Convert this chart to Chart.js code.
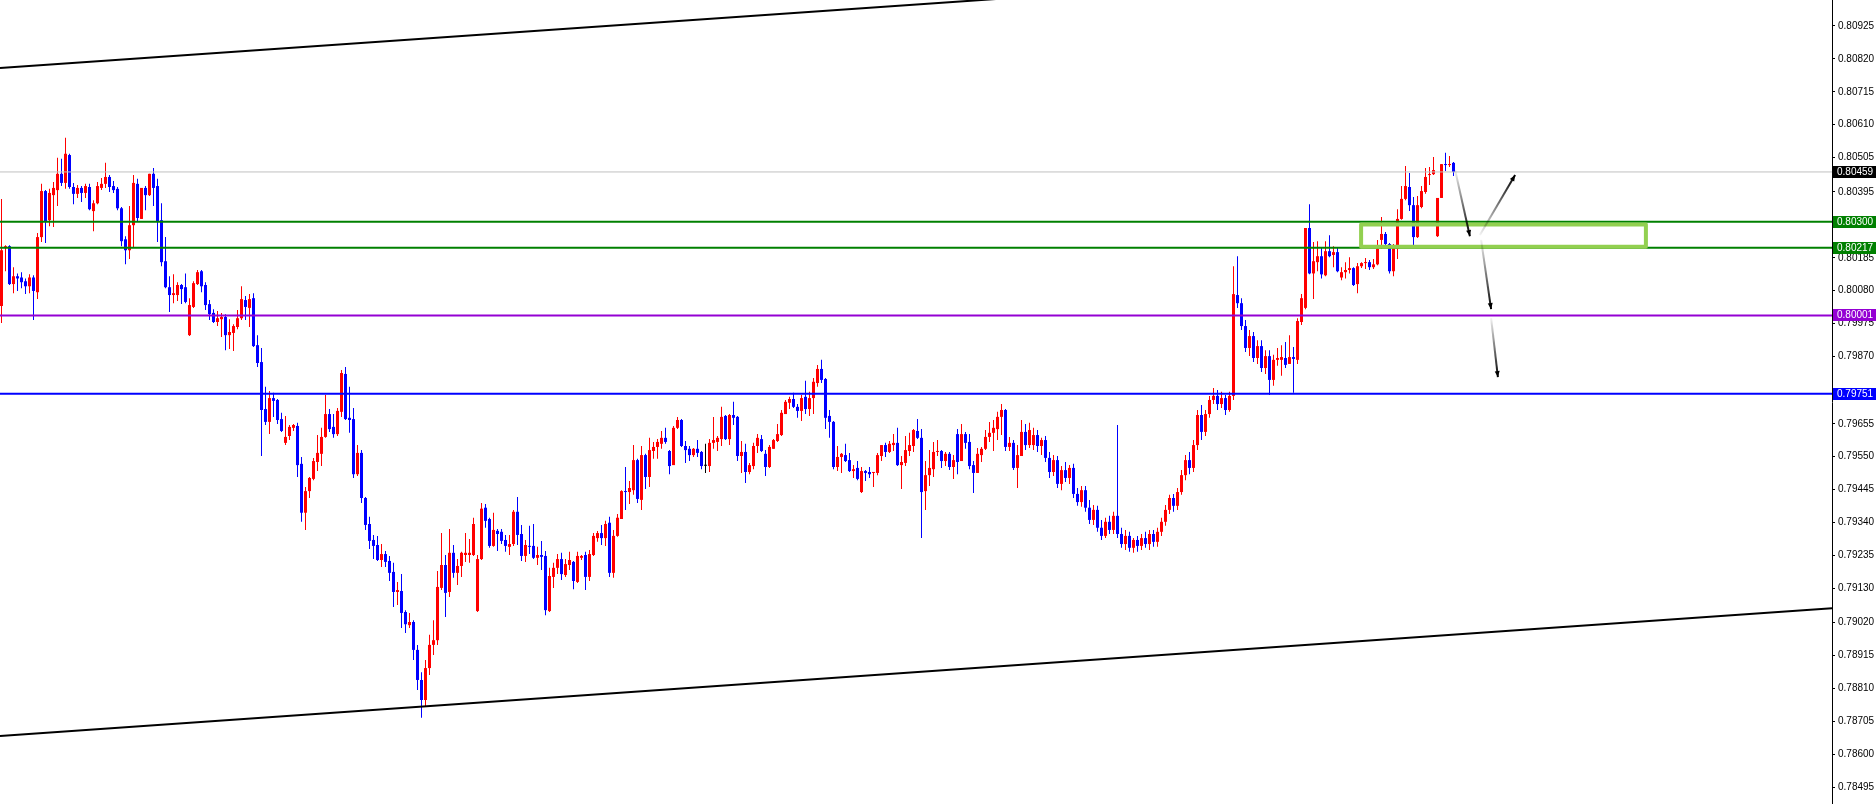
<!DOCTYPE html>
<html>
<head>
<meta charset="utf-8">
<script src="https://cdn.jsdelivr.net/npm/chart.js@4.4.1/dist/chart.umd.min.js"></script>
<style>
  html, body { margin: 0; padding: 0; background: #fff; }
</style>
</head>
<body>
<canvas id="chart" width="1876" height="804"></canvas>
<script>
// hourly candles, oldest first
const opens = [
  0.80031,0.80216,0.80222,0.80101,0.80126,0.80122,0.80110,0.80094,0.80122,0.80075,
  0.80251,0.80398,0.80305,0.80385,0.80401,0.80453,0.80424,0.80513,0.80411,0.80389,
  0.80408,0.80392,0.80411,0.80334,0.80359,0.80408,0.80421,0.80443,0.80414,0.80405,
  0.80343,0.80244,0.80209,0.80289,0.80421,0.80309,0.80408,0.80385,0.80453,0.80414,
  0.80305,0.80174,0.80091,0.80066,0.80066,0.80098,0.80091,0.79938,0.80028,0.80101,
  0.80142,0.80098,0.80037,0.80009,0.79980,0.79989,0.79996,0.79938,0.79945,0.79964,
  0.79992,0.80050,0.80025,0.80056,0.79906,0.79852,0.79702,0.79661,0.79737,0.79731,
  0.79670,0.79594,0.79616,0.79642,0.79648,0.79527,0.79371,0.79440,0.79479,0.79533,
  0.79559,0.79613,0.79686,0.79645,0.79622,0.79693,0.79814,0.79674,0.79670,0.79494,
  0.79562,0.79418,0.79335,0.79284,0.79268,0.79220,0.79239,0.79217,0.79182,0.79118,
  0.79121,0.79054,0.79012,0.79022,0.78933,0.78837,0.78773,0.78875,0.78949,0.78964,
  0.79131,0.79204,0.79118,0.79243,0.79179,0.79201,0.79236,0.79236,0.79236,0.79057,
  0.79223,0.79387,0.79351,0.79265,0.79313,0.79310,0.79284,0.79262,0.79271,0.79374,
  0.79303,0.79233,0.79265,0.79265,0.79227,0.79236,0.79233,0.79057,0.79166,0.79195,
  0.79223,0.79172,0.79204,0.79214,0.79150,0.79227,0.79236,0.79166,0.79236,0.79290,
  0.79306,0.79290,0.79339,0.79179,0.79297,0.79351,0.79440,0.79437,0.79443,0.79539,
  0.79412,0.79555,0.79485,0.79568,0.79581,0.79591,0.79610,0.79568,0.79523,0.79642,
  0.79667,0.79584,0.79575,0.79555,0.79575,0.79565,0.79521,0.79520,0.79594,0.79597,
  0.79606,0.79680,0.79606,0.79683,0.79677,0.79552,0.79565,0.79501,0.79520,0.79584,
  0.79606,0.79559,0.79517,0.79575,0.79600,0.79619,0.79686,0.79722,0.79734,0.79709,
  0.79696,0.79741,0.79702,0.79737,0.79785,0.79830,0.79798,0.79680,0.79661,0.79517,
  0.79549,0.79555,0.79539,0.79504,0.79514,0.79437,0.79504,0.79501,0.79498,0.79498,
  0.79552,0.79587,0.79565,0.79587,0.79594,0.79523,0.79530,0.79568,0.79584,0.79632,
  0.79610,0.79440,0.79491,0.79510,0.79565,0.79568,0.79536,0.79559,0.79517,0.79622,
  0.79536,0.79622,0.79597,0.79523,0.79498,0.79555,0.79575,0.79613,0.79626,0.79638,
  0.79677,0.79699,0.79581,0.79594,0.79514,0.79552,0.79629,0.79587,0.79587,0.79619,
  0.79584,0.79603,0.79546,0.79501,0.79539,0.79463,0.79507,0.79482,0.79514,0.79431,
  0.79405,0.79443,0.79387,0.79348,0.79380,0.79323,0.79297,0.79342,0.79316,0.79361,
  0.79303,0.79271,0.79297,0.79259,0.79284,0.79265,0.79290,0.79271,0.79303,0.79278,
  0.79310,0.79342,0.79380,0.79418,0.79393,0.79437,0.79491,0.79539,0.79514,0.79587,
  0.79683,0.79629,0.79686,0.79731,0.79744,0.79718,0.79737,0.79699,0.79744,0.80066,
  0.80040,0.79967,0.79897,0.79935,0.79865,0.79903,0.79833,0.79871,0.79795,0.79859,
  0.79859,0.79865,0.79846,0.79868,0.79859,0.79980,0.80025,0.80280,0.80135,0.80171,
  0.80190,0.80129,0.80206,0.80194,0.80203,0.80122,0.80139,0.80146,0.80152,0.80101,
  0.80158,0.80168,0.80171,0.80155,0.80164,0.80242,0.80261,0.80229,0.80142,0.80213,
  0.80309,0.80373,0.80411,0.80353,0.80251,0.80347,0.80395,0.80449,0.80452,0.80254,
  0.80376,0.80484,0.80481,0.80488
];
const highs = [
  0.80373,0.80225,0.80225,0.80155,0.80135,0.80139,0.80119,0.80132,0.80129,0.80264,
  0.80421,0.80401,0.80405,0.80427,0.80504,0.80501,0.80568,0.80517,0.80424,0.80417,
  0.80414,0.80421,0.80421,0.80369,0.80427,0.80440,0.80488,0.80449,0.80430,0.80411,
  0.80347,0.80254,0.80350,0.80449,0.80437,0.80408,0.80414,0.80453,0.80472,0.80437,
  0.80359,0.80251,0.80126,0.80132,0.80107,0.80101,0.80135,0.80056,0.80110,0.80146,
  0.80146,0.80107,0.80050,0.80021,0.80015,0.80009,0.80005,0.79989,0.79973,0.80018,
  0.80094,0.80063,0.80069,0.80072,0.79938,0.79897,0.79773,0.79760,0.79754,0.79734,
  0.79690,0.79680,0.79651,0.79654,0.79658,0.79549,0.79453,0.79485,0.79546,0.79619,
  0.79642,0.79747,0.79702,0.79686,0.79705,0.79827,0.79836,0.79773,0.79705,0.79587,
  0.79571,0.79421,0.79358,0.79300,0.79297,0.79271,0.79249,0.79233,0.79211,0.79150,
  0.79175,0.79060,0.79051,0.79028,0.78949,0.78862,0.78901,0.78981,0.79028,0.79185,
  0.79306,0.79236,0.79319,0.79268,0.79223,0.79246,0.79306,0.79287,0.79355,0.79236,
  0.79402,0.79399,0.79355,0.79371,0.79319,0.79319,0.79300,0.79300,0.79380,0.79421,
  0.79332,0.79284,0.79329,0.79335,0.79262,0.79281,0.79249,0.79195,0.79211,0.79239,
  0.79243,0.79223,0.79246,0.79217,0.79246,0.79236,0.79246,0.79252,0.79306,0.79313,
  0.79332,0.79345,0.79358,0.79316,0.79367,0.79443,0.79517,0.79472,0.79587,0.79543,
  0.79584,0.79559,0.79610,0.79597,0.79606,0.79632,0.79642,0.79571,0.79648,0.79677,
  0.79670,0.79600,0.79584,0.79578,0.79603,0.79568,0.79591,0.79606,0.79677,0.79616,
  0.79709,0.79683,0.79686,0.79725,0.79680,0.79600,0.79591,0.79530,0.79594,0.79622,
  0.79619,0.79571,0.79587,0.79606,0.79654,0.79699,0.79731,0.79741,0.79754,0.79718,
  0.79747,0.79792,0.79757,0.79801,0.79843,0.79859,0.79801,0.79699,0.79664,0.79584,
  0.79562,0.79591,0.79562,0.79523,0.79536,0.79517,0.79507,0.79517,0.79501,0.79562,
  0.79587,0.79594,0.79600,0.79622,0.79642,0.79552,0.79616,0.79626,0.79638,0.79670,
  0.79638,0.79536,0.79571,0.79597,0.79603,0.79571,0.79565,0.79565,0.79555,0.79638,
  0.79654,0.79629,0.79622,0.79536,0.79578,0.79581,0.79635,0.79661,0.79667,0.79693,
  0.79718,0.79702,0.79613,0.79603,0.79587,0.79667,0.79654,0.79658,0.79642,0.79635,
  0.79610,0.79616,0.79565,0.79555,0.79552,0.79520,0.79533,0.79523,0.79527,0.79450,
  0.79456,0.79456,0.79412,0.79396,0.79393,0.79348,0.79355,0.79361,0.79374,0.79651,
  0.79323,0.79316,0.79310,0.79290,0.79297,0.79303,0.79310,0.79316,0.79316,0.79323,
  0.79355,0.79396,0.79428,0.79431,0.79450,0.79507,0.79555,0.79565,0.79603,0.79699,
  0.79715,0.79699,0.79744,0.79769,0.79763,0.79757,0.79747,0.79757,0.80158,0.80190,
  0.80056,0.79986,0.79954,0.79948,0.79922,0.79922,0.79890,0.79890,0.79875,0.79897,
  0.79906,0.79916,0.79938,0.79900,0.79992,0.80069,0.80280,0.80356,0.80235,0.80238,
  0.80219,0.80238,0.80257,0.80222,0.80219,0.80155,0.80171,0.80187,0.80155,0.80168,
  0.80171,0.80184,0.80178,0.80181,0.80242,0.80315,0.80267,0.80232,0.80229,0.80340,
  0.80414,0.80478,0.80456,0.80379,0.80382,0.80414,0.80472,0.80475,0.80507,0.80376,
  0.80484,0.80520,0.80510,0.80491
];
const lows = [
  0.79977,0.80142,0.80098,0.80072,0.80079,0.80088,0.80069,0.80072,0.79986,0.80053,
  0.80235,0.80232,0.80286,0.80283,0.80350,0.80414,0.80405,0.80405,0.80356,0.80376,
  0.80363,0.80376,0.80337,0.80270,0.80356,0.80401,0.80408,0.80395,0.80392,0.80337,
  0.80222,0.80164,0.80181,0.80219,0.80302,0.80309,0.80337,0.80382,0.80350,0.80235,
  0.80158,0.80088,0.80012,0.80040,0.80047,0.80037,0.80040,0.79935,0.80025,0.80098,
  0.80075,0.80018,0.79986,0.79977,0.79967,0.79932,0.79890,0.79894,0.79887,0.79957,
  0.79986,0.79986,0.79964,0.79900,0.79836,0.79552,0.79651,0.79622,0.79677,0.79654,
  0.79629,0.79587,0.79603,0.79632,0.79485,0.79342,0.79316,0.79418,0.79475,0.79504,
  0.79520,0.79610,0.79629,0.79610,0.79616,0.79677,0.79667,0.79626,0.79482,0.79488,
  0.79402,0.79316,0.79255,0.79223,0.79217,0.79198,0.79198,0.79153,0.79070,0.79076,
  0.79003,0.78987,0.79003,0.78901,0.78805,0.78716,0.78754,0.78853,0.78917,0.78949,
  0.79124,0.79038,0.79102,0.79163,0.79140,0.79166,0.79214,0.79211,0.79233,0.79054,
  0.79220,0.79323,0.79259,0.79262,0.79249,0.79271,0.79246,0.79236,0.79265,0.79268,
  0.79217,0.79214,0.79239,0.79223,0.79204,0.79188,0.79044,0.79054,0.79131,0.79175,
  0.79156,0.79166,0.79188,0.79127,0.79147,0.79220,0.79124,0.79153,0.79233,0.79278,
  0.79268,0.79265,0.79166,0.79163,0.79294,0.79351,0.79380,0.79399,0.79428,0.79402,
  0.79380,0.79447,0.79453,0.79543,0.79543,0.79575,0.79591,0.79494,0.79523,0.79638,
  0.79581,0.79530,0.79536,0.79549,0.79549,0.79510,0.79498,0.79501,0.79575,0.79568,
  0.79584,0.79603,0.79587,0.79651,0.79536,0.79498,0.79466,0.79494,0.79510,0.79562,
  0.79565,0.79488,0.79514,0.79575,0.79597,0.79616,0.79686,0.79702,0.79705,0.79674,
  0.79664,0.79686,0.79680,0.79686,0.79773,0.79785,0.79638,0.79610,0.79510,0.79504,
  0.79498,0.79533,0.79501,0.79482,0.79475,0.79434,0.79472,0.79482,0.79453,0.79491,
  0.79536,0.79549,0.79562,0.79568,0.79520,0.79447,0.79520,0.79552,0.79565,0.79606,
  0.79290,0.79380,0.79456,0.79485,0.79552,0.79514,0.79520,0.79507,0.79479,0.79494,
  0.79536,0.79575,0.79510,0.79434,0.79498,0.79533,0.79571,0.79597,0.79568,0.79603,
  0.79619,0.79568,0.79568,0.79507,0.79450,0.79552,0.79571,0.79578,0.79571,0.79565,
  0.79555,0.79533,0.79482,0.79488,0.79450,0.79443,0.79469,0.79463,0.79418,0.79393,
  0.79390,0.79374,0.79335,0.79332,0.79310,0.79284,0.79290,0.79303,0.79303,0.79290,
  0.79259,0.79252,0.79246,0.79243,0.79246,0.79252,0.79259,0.79252,0.79262,0.79262,
  0.79297,0.79329,0.79367,0.79374,0.79380,0.79428,0.79475,0.79494,0.79501,0.79571,
  0.79603,0.79616,0.79674,0.79718,0.79699,0.79705,0.79683,0.79693,0.79731,0.80025,
  0.79954,0.79884,0.79871,0.79852,0.79846,0.79820,0.79814,0.79747,0.79776,0.79840,
  0.79808,0.79833,0.79846,0.79754,0.79846,0.79970,0.80021,0.80132,0.80053,0.80142,
  0.80119,0.80126,0.80187,0.80155,0.80139,0.80113,0.80119,0.80135,0.80095,0.80072,
  0.80152,0.80149,0.80146,0.80149,0.80161,0.80213,0.80222,0.80135,0.80126,0.80181,
  0.80306,0.80369,0.80334,0.80225,0.80248,0.80343,0.80389,0.80417,0.80449,0.80251,
  0.80376,0.80462,0.80475,0.80446
];
const closes = [
  0.80209,0.80222,0.80101,0.80126,0.80119,0.80107,0.80094,0.80122,0.80079,0.80251,
  0.80398,0.80302,0.80392,0.80408,0.80453,0.80424,0.80517,0.80411,0.80389,0.80408,
  0.80392,0.80414,0.80340,0.80359,0.80414,0.80421,0.80443,0.80411,0.80401,0.80343,
  0.80238,0.80209,0.80289,0.80424,0.80312,0.80408,0.80385,0.80453,0.80408,0.80302,
  0.80171,0.80091,0.80066,0.80072,0.80098,0.80085,0.80044,0.80034,0.80104,0.80139,
  0.80094,0.80034,0.80005,0.79980,0.79992,0.79996,0.79938,0.79948,0.79967,0.79992,
  0.80053,0.80028,0.80053,0.79903,0.79849,0.79699,0.79661,0.79737,0.79728,0.79667,
  0.79632,0.79613,0.79645,0.79651,0.79523,0.79371,0.79440,0.79482,0.79536,0.79562,
  0.79613,0.79686,0.79638,0.79622,0.79696,0.79817,0.79670,0.79667,0.79494,0.79562,
  0.79418,0.79332,0.79281,0.79265,0.79220,0.79239,0.79214,0.79179,0.79118,0.79124,
  0.79051,0.79015,0.79022,0.78933,0.78837,0.78773,0.78875,0.78949,0.78964,0.79134,
  0.79204,0.79115,0.79243,0.79179,0.79201,0.79243,0.79243,0.79243,0.79335,0.79223,
  0.79384,0.79345,0.79265,0.79316,0.79303,0.79281,0.79265,0.79271,0.79374,0.79300,
  0.79233,0.79268,0.79262,0.79227,0.79236,0.79230,0.79060,0.79169,0.79195,0.79223,
  0.79175,0.79207,0.79220,0.79153,0.79233,0.79233,0.79166,0.79239,0.79297,0.79306,
  0.79290,0.79335,0.79179,0.79297,0.79355,0.79440,0.79437,0.79450,0.79539,0.79415,
  0.79555,0.79485,0.79571,0.79581,0.79597,0.79610,0.79597,0.79520,0.79642,0.79667,
  0.79584,0.79571,0.79555,0.79575,0.79562,0.79520,0.79521,0.79594,0.79603,0.79610,
  0.79677,0.79606,0.79683,0.79674,0.79552,0.79565,0.79501,0.79523,0.79584,0.79610,
  0.79568,0.79517,0.79581,0.79603,0.79622,0.79690,0.79725,0.79734,0.79709,0.79696,
  0.79737,0.79702,0.79737,0.79789,0.79830,0.79795,0.79674,0.79661,0.79517,0.79549,
  0.79559,0.79536,0.79504,0.79510,0.79479,0.79504,0.79498,0.79494,0.79501,0.79555,
  0.79587,0.79565,0.79591,0.79594,0.79523,0.79533,0.79571,0.79587,0.79635,0.79610,
  0.79437,0.79491,0.79514,0.79565,0.79568,0.79536,0.79559,0.79517,0.79539,0.79533,
  0.79622,0.79594,0.79520,0.79498,0.79559,0.79575,0.79613,0.79626,0.79642,0.79677,
  0.79699,0.79581,0.79594,0.79514,0.79555,0.79629,0.79587,0.79635,0.79619,0.79584,
  0.79603,0.79546,0.79501,0.79539,0.79463,0.79507,0.79482,0.79514,0.79431,0.79405,
  0.79443,0.79387,0.79348,0.79380,0.79323,0.79297,0.79342,0.79316,0.79361,0.79303,
  0.79271,0.79297,0.79259,0.79284,0.79265,0.79290,0.79271,0.79303,0.79278,0.79310,
  0.79342,0.79380,0.79418,0.79393,0.79437,0.79491,0.79539,0.79514,0.79587,0.79683,
  0.79629,0.79686,0.79731,0.79744,0.79718,0.79737,0.79699,0.79744,0.80069,0.80040,
  0.79967,0.79897,0.79935,0.79865,0.79903,0.79833,0.79871,0.79795,0.79859,0.79865,
  0.79868,0.79843,0.79868,0.79862,0.79983,0.80056,0.80280,0.80135,0.80174,0.80190,
  0.80132,0.80206,0.80190,0.80203,0.80142,0.80139,0.80146,0.80152,0.80098,0.80158,
  0.80168,0.80171,0.80155,0.80164,0.80213,0.80261,0.80229,0.80142,0.80216,0.80309,
  0.80373,0.80414,0.80353,0.80251,0.80353,0.80398,0.80443,0.80452,0.80465,0.80376,
  0.80484,0.80481,0.80484,0.80459
];

// price scale labels on the right (0.79765 sits under the blue tag and is not shown)
const tickValues = [
  0.80925,0.80820,0.80715,0.80610,0.80505,0.80395,0.80290,0.80185,0.80080,0.79975,
  0.79870,0.79655,0.79550,0.79445,0.79340,0.79235,0.79130,0.79020,0.78915,
  0.78810,0.78705,0.78600,0.78495
];
const priceMin = 0.78441;
const priceMax = 0.81008;
const slotMin = -0.375;
const slotMax = 457.625;

const bidPrice = 0.80459;
const levelPrices = [0.80300, 0.80217, 0.80001, 0.79751];

// channel lines: [slot, price] at both ends
const upperChannel = [[-0.375, 0.80791], [457.625, 0.81196]];
const lowerChannel = [[-0.375, 0.78658], [457.625, 0.79066]];

// zone box
const zoneSlots = [339.9, 411.1];
const zonePrices = [0.80291, 0.80220];

// arrows: from [slot, price] to [slot, price]
const arrowFrom = [[363.4, 0.80465], [369.6, 0.80258], [369.9, 0.80242], [372.4, 0.79992]];
const arrowTo   = [[367.1, 0.80254], [378.4, 0.80449], [372.4, 0.80021], [374.1, 0.79804]];

const UP = '#ff0000', DOWN = '#0000ff', FLAT = '#000000';
const levelColors = ['#008000', '#008000', '#9400d3', '#0000ff'];

function candleColor(i) {
  if (closes[i] > opens[i]) return UP;
  if (closes[i] < opens[i]) return DOWN;
  return FLAT;
}

const wickData = opens.map((o, i) => ({ x: i, y: [lows[i], highs[i]] }));
const bodyData = opens.map((o, i) => ({ x: i, y: [Math.min(o, closes[i]), Math.max(o, closes[i])] }));

function hLine(price, color, width, order) {
  return {
    type: 'line',
    data: [{ x: slotMin, y: price }, { x: slotMax, y: price }],
    borderColor: color, borderWidth: width, pointRadius: 0, fill: false, order
  };
}

const datasets = [
  {
    type: 'bar', data: wickData, grouped: false, barThickness: 1,
    backgroundColor: ctx => candleColor(ctx.dataIndex),
    borderWidth: 0, inflateAmount: 0, order: 4
  },
  {
    type: 'bar', data: bodyData, grouped: false, barThickness: 3, minBarLength: 1,
    backgroundColor: ctx => candleColor(ctx.dataIndex),
    borderWidth: 0, inflateAmount: 0, order: 3
  },
  hLine(bidPrice, '#c0c0c0', 1, 2),
  ...levelPrices.map((p, k) => hLine(p, levelColors[k], 2, 1)),
  {
    type: 'line',
    data: upperChannel.map(p => ({ x: p[0], y: p[1] })),
    borderColor: '#000', borderWidth: 2, pointRadius: 0, fill: false, order: 1
  },
  {
    type: 'line',
    data: lowerChannel.map(p => ({ x: p[0], y: p[1] })),
    borderColor: '#000', borderWidth: 2, pointRadius: 0, fill: false, order: 1
  },
  {
    type: 'line',
    data: [
      { x: zoneSlots[0], y: zonePrices[0] }, { x: zoneSlots[1], y: zonePrices[0] },
      { x: zoneSlots[1], y: zonePrices[1] }, { x: zoneSlots[0], y: zonePrices[1] },
      { x: zoneSlots[0], y: zonePrices[0] }
    ],
    borderColor: '#92d050', borderWidth: 4, borderJoinStyle: 'round', borderCapStyle: 'round',
    pointRadius: 0, fill: false, tension: 0, order: 0
  }
];

function drawArrow(ctx, x1, y1, x2, y2) {
  const g = ctx.createLinearGradient(x1, y1, x2, y2);
  g.addColorStop(0, 'rgba(0,0,0,0.05)');
  g.addColorStop(1, 'rgba(0,0,0,1)');
  ctx.strokeStyle = g;
  ctx.lineWidth = 2;
  ctx.beginPath();
  ctx.moveTo(x1, y1);
  ctx.lineTo(x2, y2);
  ctx.stroke();
  const a = Math.atan2(y2 - y1, x2 - x1);
  const len = 6, half = 2.5;
  ctx.fillStyle = '#000';
  ctx.beginPath();
  ctx.moveTo(x2, y2);
  ctx.lineTo(x2 - len * Math.cos(a) + half * Math.sin(a), y2 - len * Math.sin(a) - half * Math.cos(a));
  ctx.lineTo(x2 - len * Math.cos(a) - half * Math.sin(a), y2 - len * Math.sin(a) + half * Math.cos(a));
  ctx.closePath();
  ctx.fill();
}

const overlays = {
  id: 'overlays',
  afterDatasetsDraw(chart) {
    const { ctx, chartArea, scales: { x, y } } = chart;
    ctx.save();
    ctx.beginPath();
    ctx.rect(chartArea.left, chartArea.top, chartArea.width, chartArea.height);
    ctx.clip();
    arrowFrom.forEach((f, k) => {
      const t = arrowTo[k];
      drawArrow(ctx, x.getPixelForValue(f[0]), y.getPixelForValue(f[1]),
                     x.getPixelForValue(t[0]), y.getPixelForValue(t[1]));
    });
    ctx.restore();
  },
  afterDraw(chart) {
    const { ctx, scales: { y } } = chart;
    const tags = [[bidPrice, '#000000']].concat(levelPrices.map((p, k) => [p, levelColors[k]]));
    ctx.save();
    ctx.font = '10px "Liberation Sans", Arial, sans-serif';
    ctx.textBaseline = 'middle';
    tags.forEach(([p, bg]) => {
      const py = Math.round(y.getPixelForValue(p));
      ctx.fillStyle = bg;
      ctx.fillRect(y.left + 1, py - 6, y.right - y.left - 1, 12);
      ctx.fillStyle = '#ffffff';
      ctx.fillText(p.toFixed(5), y.left + 5, py + 0.5);
    });
    ctx.restore();
  }
};

new Chart(document.getElementById('chart'), {
  type: 'bar',
  data: { datasets },
  plugins: [overlays],
  options: {
    responsive: false,
    animation: false,
    layout: { padding: 0 },
    plugins: { legend: { display: false }, tooltip: { enabled: false } },
    scales: {
      x: {
        type: 'linear', min: slotMin, max: slotMax, offset: false, display: false
      },
      y: {
        position: 'right',
        min: priceMin, max: priceMax,
        afterBuildTicks: s => { s.ticks = tickValues.map(v => ({ value: v })); },
        afterFit: s => { s.width = 44; s.paddingTop = 0; s.paddingBottom = 0; },
        ticks: {
          autoSkip: false, padding: 3, color: '#000',
          font: { family: '"Liberation Sans", Arial, sans-serif', size: 10 },
          callback: v => v.toFixed(5)
        },
        grid: { drawOnChartArea: false, drawTicks: true, tickLength: 3, tickColor: '#000' },
        border: { display: true, color: '#000', width: 1 }
      }
    }
  }
});
</script>
</body>
</html>
